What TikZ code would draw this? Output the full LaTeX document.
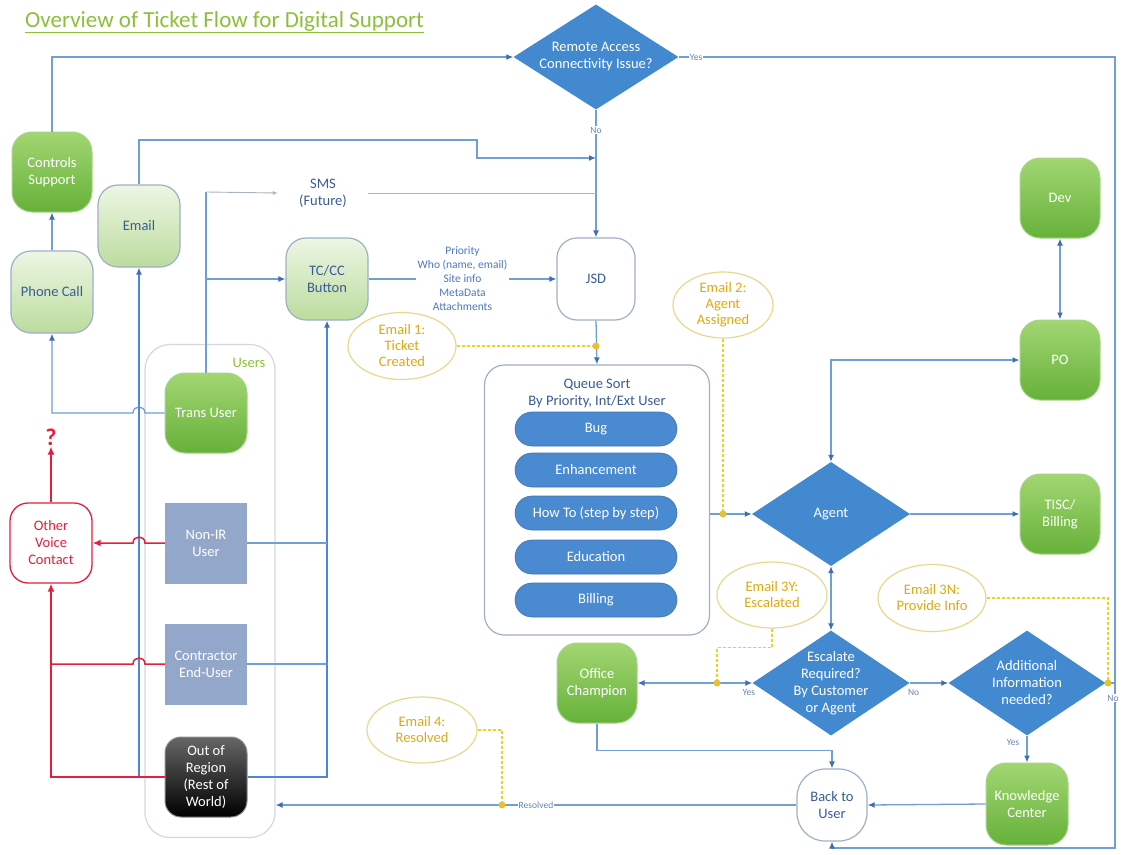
\documentclass[tikz,border=0pt]{standalone}
\usepackage{fontspec}
\setmainfont{Carlito}
\usetikzlibrary{shapes.geometric,arrows.meta}

\definecolor{titlegreen}{HTML}{8DC03A}
\definecolor{gtop}{HTML}{A2D672}
\definecolor{gbot}{HTML}{66B13A}
\definecolor{gedge}{HTML}{A9D48C}
\definecolor{ltop}{HTML}{EDF6E4}
\definecolor{lbot}{HTML}{BCDC9E}
\definecolor{ledge}{HTML}{9DB0C5}
\definecolor{inkblue}{HTML}{3A5C95}
\definecolor{noteblue}{HTML}{4B78C0}
\definecolor{diablue}{HTML}{4389CF}
\definecolor{pillblue}{HTML}{4A8AD0}
\definecolor{flowblue}{HTML}{6F9FD6}
\definecolor{deepblue}{HTML}{4A86DE}
\definecolor{tipblue}{HTML}{3F6DB6}
\definecolor{framegray}{HTML}{A0B0C4}
\definecolor{slate}{HTML}{93A7CA}
\definecolor{mailedge}{HTML}{E6D98C}
\definecolor{mailink}{HTML}{E0A90E}
\definecolor{dashyellow}{HTML}{EED21C}
\definecolor{dotyellow}{HTML}{E8C22A}
\definecolor{alertred}{HTML}{E61E3C}
\definecolor{smsgray}{HTML}{A9B3BF}
\definecolor{usersedge}{HTML}{D4D8DD}

\newcommand\nodefont{\fontsize{14.5}{17}\selectfont}
\newcommand\notefont{\fontsize{11.5}{14}\selectfont}
\newcommand\tagfont{\fontsize{9.5}{11}\selectfont}
\newcommand\headfont{\fontsize{23}{27}\selectfont}

\tikzset{
  txt/.style={align=center, font=\nodefont, inner sep=1pt},
  greenbox/.style={txt, rectangle, rounded corners=20pt, minimum width=80pt, minimum height=80pt,
    top color=gtop, bottom color=gbot, draw=gedge, line width=1pt, text=white},
  palebox/.style={txt, rectangle, rounded corners=20pt, minimum width=82pt, minimum height=82pt,
    top color=ltop, bottom color=lbot, draw=ledge, line width=1.2pt, text=inkblue},
  whitebox/.style={txt, rectangle, rounded corners=20pt, minimum width=78pt, minimum height=82pt,
    fill=white, draw=framegray, line width=1.2pt, text=inkblue},
  slatebox/.style={txt, rectangle, minimum width=82pt, minimum height=81pt, fill=slate, text=white},
  darkbox/.style={txt, rectangle, rounded corners=16pt, minimum width=82pt, minimum height=80pt,
    top color=black!60, bottom color=black, draw=black!45, line width=1pt, text=white},
  decision/.style={diamond, inner sep=0pt, fill=diablue, minimum width=158pt, minimum height=105pt},
  dtext/.style={txt, text=white},
  pill/.style={txt, rectangle, rounded corners=17pt, minimum width=162pt, minimum height=34pt,
    fill=pillblue, draw=pillblue!85!black, line width=0.6pt, text=white},
  mail/.style={txt, ellipse, inner sep=0pt, fill=white, draw=mailedge, line width=1.2pt,
    text=mailink, minimum width=108pt, minimum height=67pt, font=\fontsize{14.5}{16}\selectfont},
  flow/.style={draw=flowblue, line width=1.3pt},
  trunk/.style={draw=deepblue, line width=1.8pt},
  smsline/.style={draw=smsgray, line width=0.9pt},
  fwdarrow/.style={-{Latex[length=7pt,width=6pt,color=tipblue]}},
  twoarrow/.style={{Latex[length=7pt,width=6pt,color=tipblue]}-{Latex[length=7pt,width=6pt,color=tipblue]}},
  thinarrow/.style={-{Latex[length=5pt,width=4pt,color=smsgray]}},
  redflow/.style={draw=alertred, line width=1.5pt},
  redarrow/.style={-{Latex[length=8pt,width=7pt]}},
  notify/.style={draw=dashyellow, line width=1.1pt, dash pattern=on 3pt off 2pt},
  joint/.style={circle, fill=dotyellow, inner sep=0pt, minimum size=7pt},
  tag/.style={font=\tagfont, text=inkblue!75, fill=white, inner sep=1pt},
}

\begin{document}
\begin{tikzpicture}[x=1pt,y=-1pt]
\fill[white] (0,0) rectangle (1124,854);
\useasboundingbox (0,0) rectangle (1124,854);

% ---------- heading ----------
\node[anchor=west, font=\headfont, text=titlegreen, inner sep=0pt] (title) at (25,22)
  {\underline{Overview of Ticket Flow for Digital Support}};

% ---------- containers ----------
\node[draw=usersedge, line width=1.2pt, rounded corners=25pt, minimum width=130pt,
  minimum height=493pt] (users) at (210,591) {};
\node[txt, text=titlegreen] (userslbl) at (249,363) {Users};
\node[draw=framegray, line width=1.2pt, rounded corners=20pt, fill=white,
  minimum width=225pt, minimum height=270pt] (queue) at (597,500) {};
\node[txt, text=inkblue] (qhead) at (597,393) {Queue Sort\\By Priority, Int/Ext User};

% ---------- decisions ----------
\node[decision, minimum width=165pt] (remote) at (596,57) {};
\node[dtext] (remoteText) at (remote) {Remote Access\\Connectivity Issue?};
\node[decision, minimum height=104pt] (agent) at (831,514) {};
\node[dtext] (agentText) at (agent) {Agent};
\node[decision, minimum width=157pt] (escalate) at (831,683) {};
\node[dtext] (escalateText) at (escalate) {Escalate\\Required?\\By Customer\\or Agent};
\node[decision, minimum width=157pt] (additional) at (1027,683) {};
\node[dtext] (additionalText) at (additional) {Additional\\Information\\needed?};

% ---------- boxes ----------
\node[greenbox] (controls) at (52,172) {Controls\\Support};
\node[palebox] (phone) at (52,292) {Phone Call};
\node[palebox] (email) at (139,226) {Email};
\node[txt, text=inkblue, minimum width=90pt, inner xsep=0pt] (sms) at (323,193) {SMS\\(Future)};
\node[palebox] (tccc) at (327,279) {TC/CC\\Button};
\node[whitebox] (jsd) at (596,279) {JSD};
\node[greenbox] (dev) at (1060,198) {Dev};
\node[greenbox] (po) at (1060,360) {PO};
\node[greenbox] (tisc) at (1060,514) {TISC/\\Billing};
\node[greenbox] (office) at (597,683) {Office\\Champion};
\node[greenbox, minimum width=82pt, minimum height=82pt] (knowledge) at (1027,804) {Knowledge\\Center};
\node[whitebox, rounded corners=28pt, minimum width=70pt, minimum height=72pt] (backuser) at (832,805) {Back to\\User};

% ---------- queue categories ----------
\node[pill] (bug) at (596,429) {Bug};
\node[pill] (enh) at (596,470) {Enhancement};
\node[pill] (howto) at (596,513) {How To (step by step)};
\node[pill] (edu) at (596,557) {Education};
\node[pill] (billing) at (596,600) {Billing};

% ---------- user types ----------
\node[greenbox, minimum width=82pt] (trans) at (206,413) {Trans User};
\node[slatebox] (nonir) at (206,543) {Non-IR\\User};
\node[slatebox] (contractor) at (206,664) {Contractor\\End-User};
\node[darkbox] (outregion) at (206,777) {Out of\\Region\\(Rest of\\World)};
\node[txt, rectangle, rounded corners=18pt, minimum width=82pt, minimum height=80pt, fill=white,
  draw=alertred, line width=1.3pt, text=alertred] (voice) at (51,543) {Other\\Voice\\Contact};
\node[font=\fontsize{24}{26}\selectfont\bfseries, text=alertred, inner sep=1pt] (ask) at (51,437) {?};

% ---------- notifications ----------
\node[mail] (mailA) at (402,346) {Email 1:\\Ticket\\Created};
\node[mail, minimum width=100pt, minimum height=66pt] (mailB) at (723,305) {Email 2:\\Agent\\Assigned};
\node[mail, minimum width=110pt, minimum height=66pt] (mailC) at (772,595) {Email 3Y:\\Escalated};
\node[mail] (mailD) at (932,598) {Email 3N:\\Provide Info};
\node[mail, minimum width=110pt, minimum height=66pt] (mailE) at (422,730) {Email 4:\\Resolved};

% ---------- coordinates for the outer loop ----------
\coordinate (cornerNE) at (1115,57);
\coordinate (cornerSE) at (1115,848);
\coordinate (mergeA) at (596,158);
\coordinate (smsbend) at (206,192);

% ---------- blue connectors ----------
\draw[flow, fwdarrow] (controls.north) |- (remote.west);
\draw[flow, fwdarrow] (remote.east) -- node[tag, pos=0.04] (yesRemote) {Yes} (cornerNE) -- (cornerSE) -| (backuser.south);
\draw[flow, fwdarrow] (remote.south) -- node[tag, pos=0.16] (noRemote) {No} (jsd.north);
\draw[flow, fwdarrow] (email.north) |- (477,140) |- (mergeA);
\draw[flow] (trans.north) -- (smsbend);
\draw[smsline, thinarrow] (smsbend) -- (sms.west);
\draw[smsline] (sms.east) -- (sms.east -| jsd.north);
\draw[flow, fwdarrow] (trans.north |- tccc.west) -- (tccc.west);
\draw[flow, fwdarrow] (tccc.east) -- node[txt, font=\notefont, text=noteblue, fill=white, inner sep=2pt] (fields)
  {Priority\\Who (name, email)\\Site info\\MetaData\\Attachments} (jsd.west);
\draw[flow, fwdarrow] (jsd.south) -- (queue.north);
\draw[flow, fwdarrow] (queue.east |- agent.west) -- (agent.west);
\draw[flow, twoarrow] (agent.north) |- (po.west);
\draw[flow, fwdarrow] (agent.east) -- (tisc.west);
\draw[flow, twoarrow] (dev.south) -- (po.north);
\draw[flow, twoarrow] (agent.south) -- (escalate.north);
\draw[flow, twoarrow] (escalate.west) -- node[tag, pos=0.03, below=5pt] (yesEsc) {Yes} (office.east);
\draw[flow, fwdarrow] (escalate.east) -- node[tag, pos=0.1, below=5pt] (noEsc) {No} (additional.west);
\draw[flow] (additional.east) -- (additional.east -| cornerNE);
\node[tag] (noAdd) at (1113,698) {No};
\draw[flow, fwdarrow] (additional.south) -- node[tag, pos=0.25, left=6pt] (yesAdd) {Yes} (knowledge.north);
\draw[flow, fwdarrow] (knowledge.west) -- (backuser.east);
\draw[flow, fwdarrow] (office.south) -- ++(0,27) -| (backuser.north);
\draw[flow, fwdarrow] (backuser.west) -- node[tag, pos=0.5] (resolved) {Resolved} (backuser.west -| users.east);

% ---------- user-side connectors ----------
\draw[flow, fwdarrow] (phone.north) -- (controls.south);
\draw[flow, fwdarrow] (trans.west) -- (145,413) .. controls (145,405) and (133,405) .. (133,413) -| (phone.south);
\draw[trunk, fwdarrow] (outregion.west) -| (email.south);
\draw[trunk, fwdarrow] (outregion.east) -| (tccc.south);
\draw[flow] (nonir.east) -- (nonir.east -| tccc.south);
\draw[flow] (contractor.east) -- (contractor.east -| tccc.south);

% ---------- voice contact (red) ----------
\draw[redflow, redarrow] (nonir.west) -- (145,543) .. controls (145,535) and (133,535) .. (133,543) -- (voice.east);
\draw[redflow] (contractor.west) -- (145,664) .. controls (145,656) and (133,656) .. (133,664) -- (voice.south |- contractor.west);
\draw[redflow, redarrow] (outregion.west) -| (voice.south);
\draw[redflow, redarrow] (voice.north) -- (ask.south);

% ---------- notification links ----------
\draw[notify] (mailA.east) -- (mailA.east -| jsd.south);
\draw[notify] (mailB.south) -- (mailB.south |- agent.west);
\draw[notify] (mailC.south) -- ++(0,19) -| (717,683);
\draw[notify] (mailD.east) -| (1108,683);
\draw[notify] (mailE.east) -| (502,805);
\node[joint] (jA) at (mailA.east -| jsd.south) {};
\node[joint] (jB) at (mailB.south |- agent.west) {};
\node[joint] (jC) at (717,683) {};
\node[joint] (jD) at (1108,683) {};
\node[joint] (jE) at (502,805) {};
\end{tikzpicture}
\end{document}
